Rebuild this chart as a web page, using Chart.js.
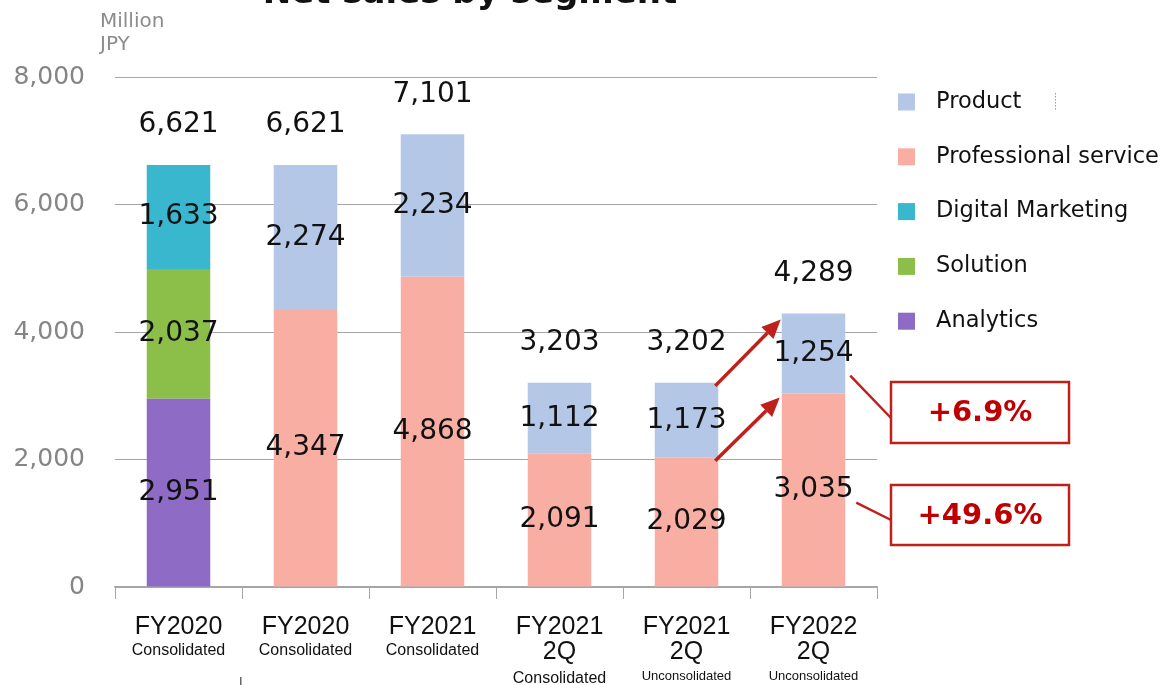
<!DOCTYPE html>
<html>
<head>
<meta charset="utf-8">
<script src="https://cdn.jsdelivr.net/npm/chart.js@4/dist/chart.umd.min.js"></script>
<style>
  html, body { margin: 0; padding: 0; background: #ffffff; }
  #wrap { width: 1176px; height: 685px; position: relative; }
</style>
</head>
<body>
<div id="wrap"><canvas id="c" width="1176" height="685"></canvas></div>
<script>
// ---- Data ----
const categoryYears  = ['FY2020', 'FY2020', 'FY2021', 'FY2021', 'FY2021', 'FY2022'];
const categoryPeriods = ['', '', '', '2Q', '2Q', '2Q'];
const categoryScopes = ['Consolidated', 'Consolidated', 'Consolidated', 'Consolidated', 'Unconsolidated', 'Unconsolidated'];

const analytics           = [2951, null, null, null, null, null];
const solution            = [2037, null, null, null, null, null];
const digitalMarketing    = [1633, null, null, null, null, null];
const professionalService = [null, 4347, 4868, 2091, 2029, 3035];
const product             = [null, 2274, 2234, 1112, 1173, 1254];
const totals              = [6621, 6621, 7101, 3203, 3202, 4289];

const growthProduct      = '+6.9%';
const growthProfessional = '+49.6%';

const yTickValues = [0, 2000, 4000, 6000, 8000];

const titleText = 'Net sales by segment';
const unitLines = ['Million', 'JPY'];

// ---- Styles ----
const COLORS = {
  product: '#b4c7e7',
  professional: '#f9aea3',
  digital: '#39b7cf',
  solution: '#8cbe4a',
  analytics: '#8e6bc5'
};
const GRID = '#a6a6a6';
const RED = '#c00000';
const BOX_RED = '#c0201a';
const LABEL_FONT = '"DejaVu Sans", Verdana, sans-serif';
const CAT_FONT = '"Liberation Sans", Arial, sans-serif';

const labels = categoryYears.map((y, i) => [y, categoryPeriods[i], categoryScopes[i]].filter(Boolean).join(' '));

const datasets = [
  { label: 'Analytics', data: analytics, backgroundColor: COLORS.analytics },
  { label: 'Solution', data: solution, backgroundColor: COLORS.solution },
  { label: 'Digital Marketing', data: digitalMarketing, backgroundColor: COLORS.digital },
  { label: 'Professional service', data: professionalService, backgroundColor: COLORS.professional },
  { label: 'Product', data: product, backgroundColor: COLORS.product }
];

function fmt(v) { return v.toLocaleString('en-US'); }

const overlayPlugin = {
  id: 'overlay',
  afterDatasetsDraw(chart) {
    const ctx = chart.ctx;
    const xs = chart.scales.x;
    const ys = chart.scales.y;
    ctx.save();

    // segment value labels
    ctx.fillStyle = '#111111';
    ctx.font = '28px ' + LABEL_FONT;
    ctx.textAlign = 'center';
    ctx.textBaseline = 'middle';
    chart.data.datasets.forEach((ds, di) => {
      const meta = chart.getDatasetMeta(di);
      meta.data.forEach((el, i) => {
        const v = ds.data[i];
        if (v == null) return;
        const cy = (el.y + el.base) / 2;
        ctx.fillText(fmt(v), el.x, cy);
      });
    });
    // totals
    totals.forEach((t, i) => {
      ctx.fillText(fmt(t), xs.getPixelForValue(i), ys.getPixelForValue(t) - 40);
    });

    // category labels
    ctx.fillStyle = '#111111';
    ctx.textBaseline = 'alphabetic';
    categoryYears.forEach((yr, i) => {
      const cx = xs.getPixelForValue(i);
      ctx.font = '25px ' + CAT_FONT;
      ctx.fillText(yr, cx, 634);
      if (categoryPeriods[i]) {
        ctx.fillText(categoryPeriods[i], cx, 659);
        const unc = categoryScopes[i].startsWith('Un');
        ctx.font = (unc ? '13px ' : '16px ') + CAT_FONT;
        ctx.fillText(categoryScopes[i], cx, unc ? 680 : 683);
      } else {
        ctx.font = '16px ' + CAT_FONT;
        ctx.fillText(categoryScopes[i], cx, 655);
      }
    });

    // arrows
    const prodMeta = chart.getDatasetMeta(4);
    const profMeta = chart.getDatasetMeta(3);
    function arrow(x1, y1, x2, y2) {
      const ang = Math.atan2(y2 - y1, x2 - x1);
      const hl = 19, hw = 8.5;
      const bx = x2 - hl * Math.cos(ang), by = y2 - hl * Math.sin(ang);
      ctx.strokeStyle = BOX_RED;
      ctx.fillStyle = BOX_RED;
      ctx.lineWidth = 3.5;
      ctx.beginPath();
      ctx.moveTo(x1, y1);
      ctx.lineTo(bx, by);
      ctx.stroke();
      ctx.beginPath();
      ctx.moveTo(x2, y2);
      ctx.lineTo(bx + hw * Math.sin(ang), by - hw * Math.cos(ang));
      ctx.lineTo(bx - hw * Math.sin(ang), by + hw * Math.cos(ang));
      ctx.closePath();
      ctx.fill();
    }
    const p5 = prodMeta.data[4], p6 = prodMeta.data[5];
    const q5 = profMeta.data[4], q6 = profMeta.data[5];
    const r5 = p5.x + p5.width / 2, l6 = p6.x - p6.width / 2;
    arrow(r5 - 3, p5.y + 3, l6 - 1, p6.y + 6);
    arrow(r5 - 3, q5.y + 3, l6 - 2, q6.y + 4);

    // callouts
    const r6 = p6.x + p6.width / 2;
    ctx.strokeStyle = BOX_RED;
    ctx.lineWidth = 2.5;
    ctx.beginPath();
    ctx.moveTo(r6 + 5, p6.y + 62);
    ctx.lineTo(891, 418);
    ctx.moveTo(r6 + 11, q6.y + 109);
    ctx.lineTo(891, 520);
    ctx.stroke();
    ctx.lineWidth = 2.5;
    ctx.strokeRect(891, 382, 178, 61);
    ctx.strokeRect(891, 485, 178, 60);
    ctx.fillStyle = RED;
    ctx.font = 'bold 29px ' + LABEL_FONT;
    ctx.textAlign = 'center';
    ctx.textBaseline = 'middle';
    ctx.fillText(growthProduct, 980, 413);
    ctx.fillText(growthProfessional, 980, 516);

    // legend (top of stack first)
    const legendOrder = [4, 3, 2, 1, 0];
    ctx.font = '22.5px ' + LABEL_FONT;
    ctx.textAlign = 'left';
    legendOrder.forEach((di, k) => {
      const ds = chart.data.datasets[di];
      const cy = 102 + k * 54.8;
      ctx.fillStyle = ds.backgroundColor;
      ctx.fillRect(898, cy - 8.5, 17, 17);
      ctx.fillStyle = '#111111';
      ctx.fillText(ds.label, 936, cy);
    });

    // small dotted mark near legend
    ctx.fillStyle = '#999999';
    for (let yy = 93; yy < 111; yy += 3) ctx.fillRect(1055, yy, 1, 1.5);
    // stray mark at bottom
    ctx.fillStyle = '#666666';
    ctx.fillRect(240, 677, 1.5, 8);

    // unit
    ctx.fillStyle = '#8c8c8c';
    ctx.font = '20px ' + LABEL_FONT;
    ctx.textAlign = 'left';
    ctx.textBaseline = 'alphabetic';
    ctx.fillText(unitLines[0], 100, 27);
    ctx.fillText(unitLines[1], 100, 50);

    // title (cut off at top)
    ctx.fillStyle = '#111111';
    ctx.font = 'bold 34px ' + LABEL_FONT;
    ctx.textAlign = 'center';
    ctx.textBaseline = 'alphabetic';
    ctx.fillText(titleText, 470, 3);

    ctx.restore();
  }
};

new Chart(document.getElementById('c'), {
  type: 'bar',
  data: { labels, datasets },
  plugins: [overlayPlugin],
  options: {
    responsive: false,
    devicePixelRatio: 1,
    animation: false,
    layout: { padding: { top: 77, right: 299, left: 0, bottom: 0 } },
    plugins: { legend: { display: false }, tooltip: { enabled: false }, title: { display: false } },
    datasets: { bar: { categoryPercentage: 1.0, barPercentage: 0.5, borderWidth: 0 } },
    scales: {
      x: {
        stacked: true,
        offset: true,
        ticks: { display: false },
        grid: { display: true, offset: true, drawOnChartArea: false, drawTicks: true, tickLength: 12, color: GRID, lineWidth: 1 },
        border: { display: true, color: GRID, width: 1.5 },
        afterFit(scale) { scale.height = 98; }
      },
      y: {
        stacked: true,
        min: 0,
        max: 8000,
        afterBuildTicks(scale) { scale.ticks = yTickValues.map(v => ({ value: v })); },
        ticks: {
          padding: 30,
          color: '#858585',
          font: { family: LABEL_FONT, size: 25 },
          callback: (v) => fmt(v)
        },
        grid: { color: GRID, lineWidth: 1, drawTicks: false },
        border: { display: false },
        afterFit(scale) { scale.width = 115; }
      }
    }
  }
});
</script>
</body>
</html>
